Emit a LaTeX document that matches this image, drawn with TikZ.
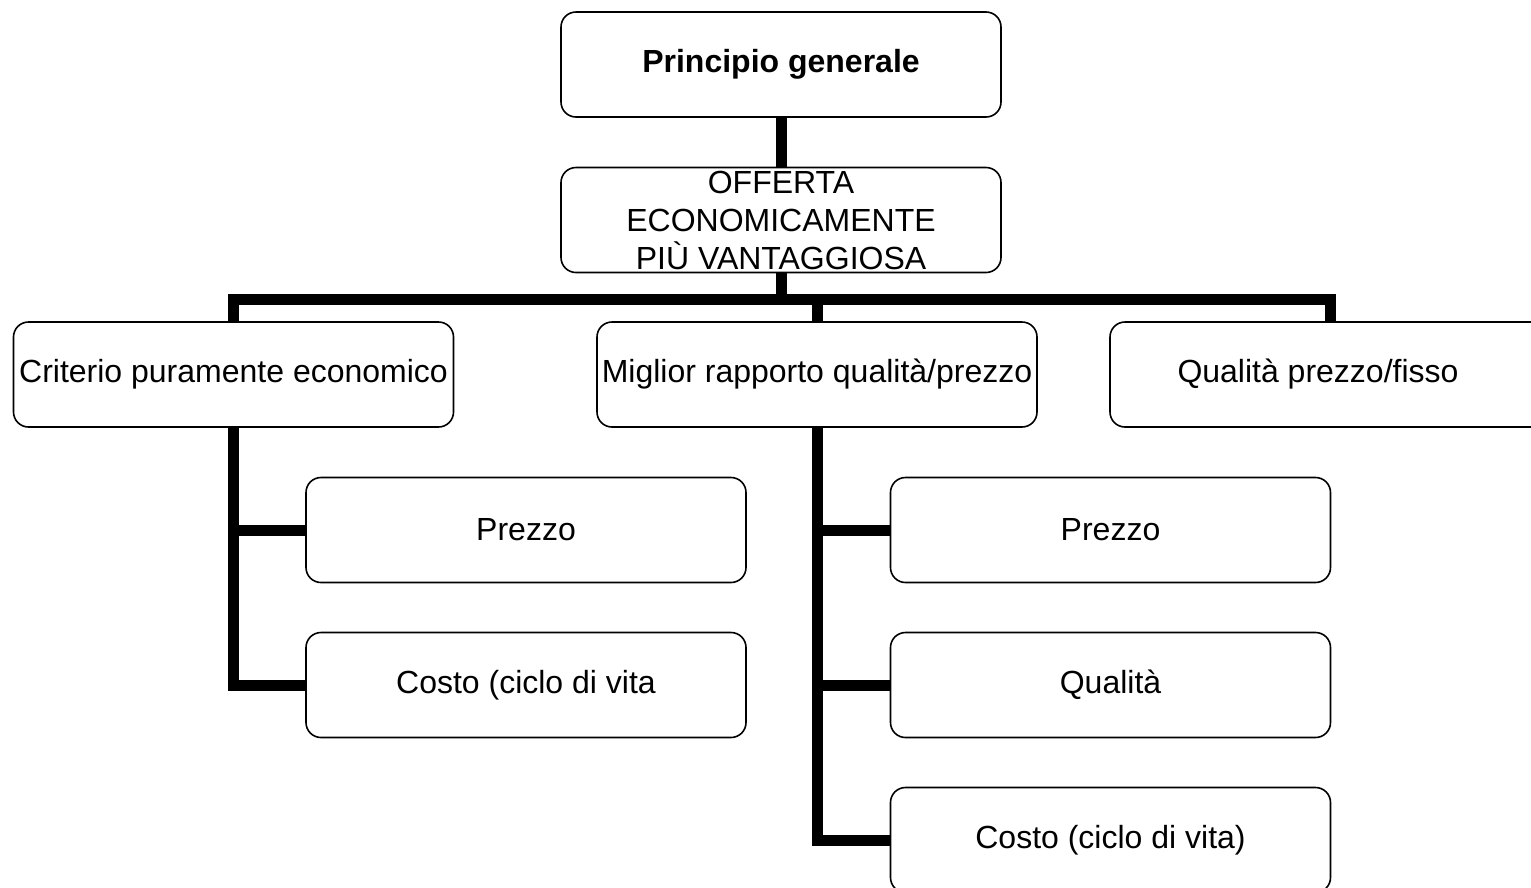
\documentclass[tikz,border=0pt]{standalone}
\usepackage{fontspec}
\setmainfont{Liberation Sans}
\begin{document}
\begin{tikzpicture}[x=1pt,y=-1pt,
  box/.style={draw=black, line width=1.6pt, fill=white, rounded corners=15pt,
    minimum width=440pt, minimum height=105pt, inner sep=0pt,
    font=\fontsize{32}{38}\selectfont, text=black},
  conn/.style={draw=black, line width=11pt, line join=miter, line cap=butt}]
\useasboundingbox[fill=white] (0,0) rectangle (1531,887);
\node[box, font=\fontsize{32}{38}\selectfont\bfseries] (pri) at (781,64.5) {Principio generale};
\node[box, label={[name=offt, align=center, inner sep=0pt, font=\fontsize{32}{38}\selectfont]center:OFFERTA\\ECONOMICAMENTE\\PIÙ VANTAGGIOSA}] (off) at (781,220) {};
\node[box] (crit) at (233.5,374.5) {Criterio puramente economico};
\node[box] (mig) at (817,374.5) {Miglior rapporto qualità/prezzo};
\node[box] (qpf) at (1330,374.5) {\hspace*{-24pt}Qualità prezzo/fisso};
\node[box] (prezzoL) at (526,530) {Prezzo};
\node[box] (costoL) at (526,685) {Costo (ciclo di vita};
\node[box] (prezzoR) at (1110.5,530) {Prezzo};
\node[box] (qualR) at (1110.5,685) {Qualità};
\node[box] (costoR) at (1110.5,840) {Costo (ciclo di vita)};
\coordinate (bus) at (0,299);
\draw[conn] (pri.south) -- (off.north);
\draw[conn] (off.south) -- (off.south |- bus);
\draw[conn] (crit.north) |- (bus -| qpf.north) -- (qpf.north);
\draw[conn] (mig.north |- bus) -- (mig.north);
\draw[conn] (crit.south) |- (costoL.west);
\draw[conn] (crit.south |- prezzoL.west) -- (prezzoL.west);
\draw[conn] (mig.south) |- (costoR.west);
\draw[conn] (mig.south |- prezzoR.west) -- (prezzoR.west);
\draw[conn] (mig.south |- qualR.west) -- (qualR.west);
\end{tikzpicture}
\end{document}
